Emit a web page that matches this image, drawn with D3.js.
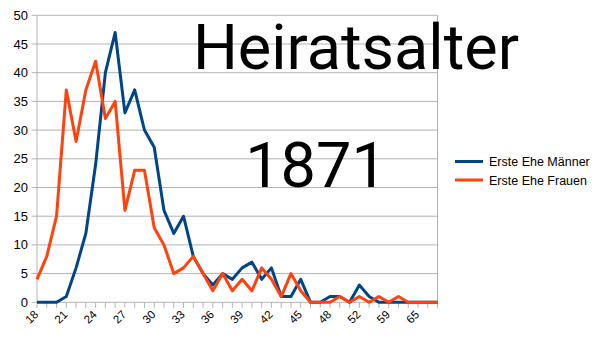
<!DOCTYPE html>
<html>
<head>
<meta charset="utf-8">
<script src="https://cdn.jsdelivr.net/npm/d3@7/dist/d3.min.js"></script>
<style>
  body { margin: 0; background: #fff; }
  svg { display: block; }
  .grid line { stroke: #b3b3b3; stroke-width: 1; }
  .tick-label { font-family: "Liberation Sans", Arial, sans-serif; fill: #000; }
</style>
</head>
<body>
<div id="chart"></div>
<script>
// Alter (Kategorien der x-Achse), nur jede dritte wird beschriftet
const ages = [18, 19, 20, 21, 22, 23, 24, 25, 26, 27, 28, 29, 30, 31, 32, 33, 34, 35, 36, 37,
  38, 39, 40, 41, 42, 43, 44, 45, 46, 47, 48, 49, 50, 52, 54, 56, 59, 61, 63, 65, 67, 70];
const maenner = [0, 0, 0, 1, 6, 12, 24, 40, 47, 33, 37, 30, 27, 16, 12, 15, 8, 5, 3, 5,
  4, 6, 7, 4, 6, 1, 1, 4, 0, 0, 1, 1, 0, 3, 1, 0, 0, 0, 0, 0, 0, 0];
const frauen = [4, 8, 15, 37, 28, 37, 42, 32, 35, 16, 23, 23, 13, 10, 5, 6, 8, 5, 2, 5,
  2, 4, 2, 6, 4, 1, 5, 2, 0, 0, 0, 1, 0, 1, 0, 1, 0, 1, 0, 0, 0, 0];
const yTicks = [0, 5, 10, 15, 20, 25, 30, 35, 40, 45, 50];
const seriesNames = ['Erste Ehe Männer', 'Erste Ehe Frauen'];
const titleLines = ['Heiratsalter', '1871'];

const width = 605, height = 340;
const plot = { left: 37, right: 437.5, top: 15.3, bottom: 302.3 };
const colors = ['#004586', '#ff420e'];

const svg = d3.select('#chart')
  .append('svg')
  .attr('width', width)
  .attr('height', height);

const x = d3.scalePoint()
  .domain(ages)
  .range([plot.left, plot.right]);

const y = d3.scaleLinear()
  .domain([0, 50])
  .range([plot.bottom, plot.top]);

// horizontale Gitterlinien
svg.append('g')
  .attr('class', 'grid')
  .selectAll('line')
  .data(yTicks)
  .enter()
  .append('line')
    .attr('x1', plot.left - 5.5)
    .attr('x2', plot.right)
    .attr('y1', d => y(d))
    .attr('y2', d => y(d));

const frame = svg.append('g').attr('class', 'grid');
frame.append('line')
  .attr('x1', plot.left).attr('x2', plot.left)
  .attr('y1', plot.top).attr('y2', plot.bottom);
frame.append('line')
  .attr('x1', plot.right).attr('x2', plot.right)
  .attr('y1', plot.top).attr('y2', plot.bottom);

// Striche an der x-Achse
frame.selectAll('.xtick')
  .data(ages)
  .enter()
  .append('line')
    .attr('class', 'xtick')
    .attr('x1', d => x(d)).attr('x2', d => x(d))
    .attr('y1', plot.bottom).attr('y2', plot.bottom + 5.5);

svg.append('g')
  .selectAll('text')
  .data(yTicks)
  .enter()
  .append('text')
    .attr('class', 'tick-label')
    .attr('x', 28)
    .attr('y', d => y(d) + 4.5)
    .attr('text-anchor', 'end')
    .style('font-size', '13px')
    .text(d => d);

svg.append('g')
  .selectAll('text')
  .data(ages.filter((d, i) => i % 3 === 0))
  .enter()
  .append('text')
    .attr('class', 'tick-label')
    .attr('text-anchor', 'end')
    .attr('transform', d => `translate(${x(d) + 2},${plot.bottom + 13}) rotate(-45)`)
    .style('font-size', '11.5px')
    .text(d => d);

// Titel ueber dem Diagramm
svg.append('text')
  .attr('x', 356)
  .attr('y', 69)
  .attr('text-anchor', 'middle')
  .style('font-family', 'Roboto, sans-serif')
  .style('font-size', '63px')
  .text(titleLines[0]);

svg.append('text')
  .attr('x', 316)
  .attr('y', 187)
  .attr('text-anchor', 'middle')
  .style('font-family', 'Roboto, sans-serif')
  .style('font-size', '63px')
  .text(titleLines[1]);

const line = d3.line()
  .x((d, i) => x(ages[i]))
  .y(d => y(d));

[maenner, frauen].forEach((values, k) => {
  svg.append('path')
    .datum(values)
    .attr('d', line)
    .attr('fill', 'none')
    .attr('stroke', colors[k])
    .attr('stroke-width', 3)
    .attr('stroke-linejoin', 'round');
});

const legend = svg.append('g')
  .selectAll('g')
  .data(seriesNames)
  .enter()
  .append('g')
    .attr('transform', (d, i) => `translate(455,${161.5 + i * 18.5})`);

legend.append('line')
  .attr('x1', 0).attr('x2', 28)
  .attr('stroke', (d, i) => colors[i])
  .attr('stroke-width', 3);

legend.append('text')
  .attr('class', 'tick-label')
  .attr('x', 34)
  .attr('y', 4.5)
  .style('font-size', '12.5px')
  .text(d => d);
</script>
</body>
</html>
